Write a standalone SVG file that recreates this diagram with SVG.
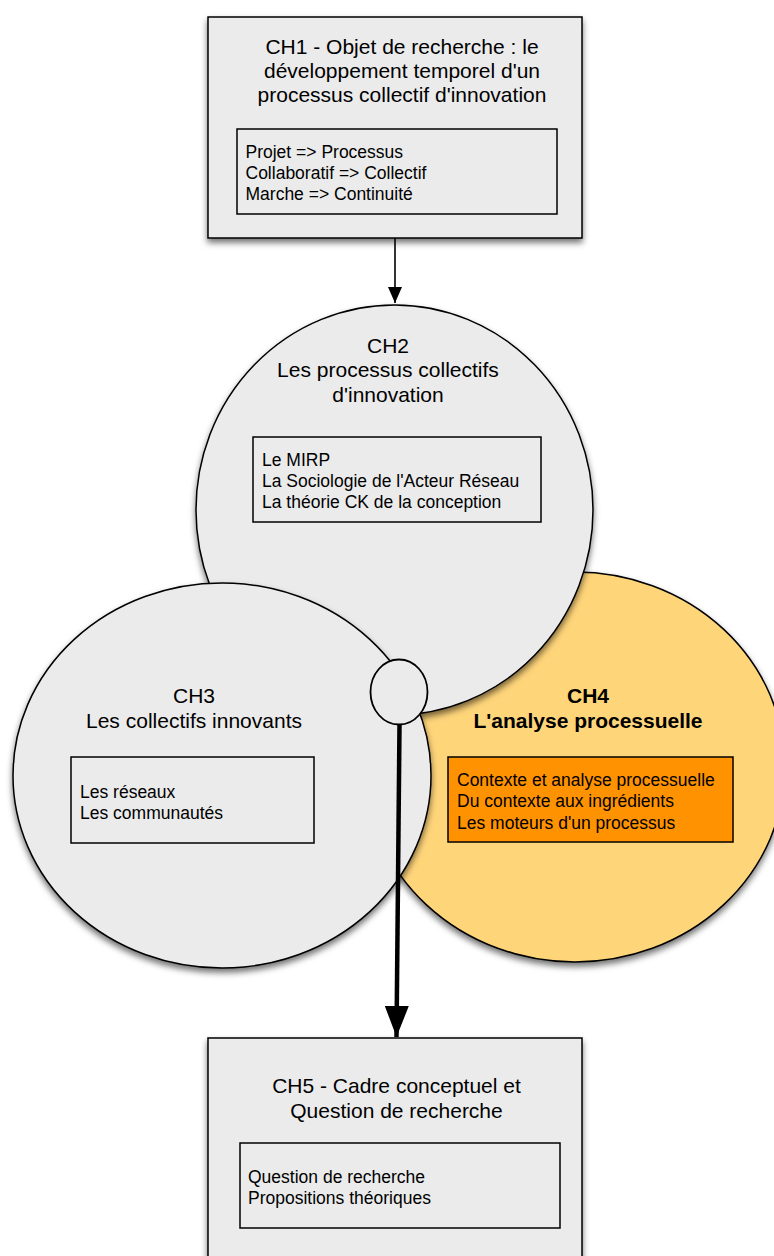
<svg xmlns="http://www.w3.org/2000/svg" width="774" height="1256" viewBox="0 0 774 1256">
<defs>
<style>
.shape{stroke:#000;stroke-width:1.5;filter:url(#sh)}
.grey{fill:#EBEBEB}
.inner{fill:none;stroke:#000;stroke-width:1.5}
.title{font-family:"Liberation Sans",Arial,Helvetica,sans-serif;font-size:21px;fill:#000;text-anchor:middle}
.bold{font-weight:bold}
.item{font-family:"Liberation Sans",Arial,Helvetica,sans-serif;font-size:17.5px;fill:#000}
.conn{stroke:#000;fill:none}
</style>
<filter id="sh" x="-10%" y="-10%" width="120%" height="125%">
<feDropShadow dx="0" dy="4" stdDeviation="3" flood-color="#000" flood-opacity="0.55"/>
</filter>
<marker id="ahSmall" markerUnits="userSpaceOnUse" markerWidth="16" markerHeight="18" refX="16" refY="7" orient="auto" viewBox="0 0 16 14">
<path d="M0,0 L16,7 L0,14 Z" fill="#000"/>
</marker>
<marker id="ahBig" markerUnits="userSpaceOnUse" markerWidth="31" markerHeight="24" refX="31" refY="12" orient="auto" viewBox="0 0 31 24">
<path d="M0,0 L31,12 L0,24 Z" fill="#000"/>
</marker>
</defs>
<rect width="774" height="1256" fill="#fff"/>

<g id="ch1">
<rect class="shape grey" x="208" y="17" width="374" height="221"/>
<text class="title" x="402" y="54">CH1 - Objet de recherche : le</text>
<text class="title" x="402" y="78">développement temporel d'un</text>
<text class="title" x="402" y="101.5">processus collectif d'innovation</text>
<rect class="inner" x="237" y="129" width="320" height="85"/>
<text class="item" x="245.5" y="158">Projet =&gt; Processus</text>
<text class="item" x="245.5" y="179">Collaboratif =&gt; Collectif</text>
<text class="item" x="245.5" y="200">Marche =&gt; Continuité</text>
</g>

<g id="ch4">
<ellipse class="shape" fill="#FFD57A" cx="575" cy="767" rx="210" ry="195"/>
</g>

<g id="ch2">
<ellipse class="shape grey" cx="394.5" cy="510" rx="198.5" ry="205"/>
<text class="title" x="388" y="353">CH2</text>
<text class="title" x="388" y="377">Les processus collectifs</text>
<text class="title" x="388" y="401.5">d'innovation</text>
<rect class="inner" x="253" y="437" width="288" height="85"/>
<text class="item" x="262" y="466">Le MIRP</text>
<text class="item" x="262" y="487">La Sociologie de l'Acteur Réseau</text>
<text class="item" x="262" y="507.5">La théorie CK de la conception</text>
</g>

<g id="ch3">
<ellipse class="shape grey" cx="222" cy="775.5" rx="209" ry="192.5"/>
<text class="title" x="194" y="703">CH3</text>
<text class="title" x="194" y="728">Les collectifs innovants</text>
<rect class="inner" x="71" y="757" width="243" height="86"/>
<text class="item" x="80" y="797.5">Les réseaux</text>
<text class="item" x="80" y="818.5">Les communautés</text>
</g>

<g id="ch4-content">
<text class="title bold" x="588" y="703">CH4</text>
<text class="title bold" x="588" y="728">L'analyse processuelle</text>
<rect x="448" y="757" width="285" height="85" fill="#FF9200" stroke="#000" stroke-width="1.5"/>
<text class="item" x="457" y="786">Contexte et analyse processuelle</text>
<text class="item" x="457" y="807">Du contexte aux ingrédients</text>
<text class="item" x="457" y="828.5">Les moteurs d'un processus</text>
</g>

<g id="junction">
<ellipse cx="399" cy="692" rx="28.5" ry="32.5" fill="#EBEBEB" stroke="#000" stroke-width="1.8"/>
</g>

<g id="ch5">
<rect class="shape grey" x="208" y="1038" width="374" height="235"/>
<text class="title" x="396.5" y="1093">CH5 - Cadre conceptuel et</text>
<text class="title" x="396.5" y="1117.5">Question de recherche</text>
<rect class="inner" x="240" y="1143" width="320" height="85"/>
<text class="item" x="248" y="1183">Question de recherche</text>
<text class="item" x="248" y="1203.5">Propositions théoriques</text>
</g>

<g id="connectors">
<line class="conn" x1="395" y1="238" x2="395" y2="303" stroke-width="1.6" marker-end="url(#ahSmall)"/>
<line class="conn" x1="399.5" y1="725" x2="396.5" y2="1037" stroke-width="4.5" marker-end="url(#ahBig)"/>
</g>
</svg>
